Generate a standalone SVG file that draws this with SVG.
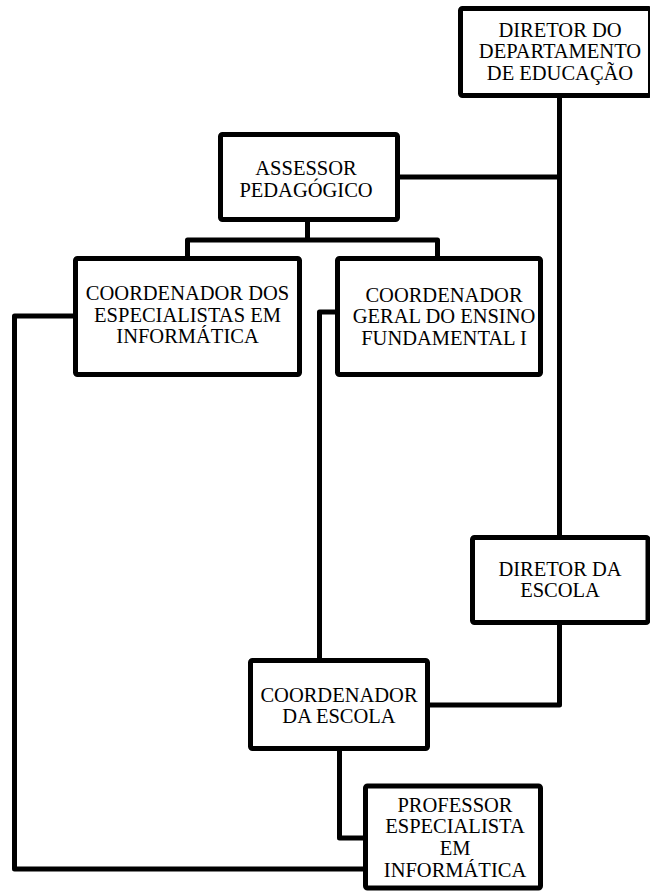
<svg xmlns="http://www.w3.org/2000/svg" width="650" height="891" viewBox="0 0 650 891">
<style>
.box{fill:#fff;stroke:#000;stroke-width:5;stroke-linejoin:round}
.ln{fill:none;stroke:#000;stroke-width:5;stroke-linejoin:round;stroke-linecap:butt}
.t{font-family:"Liberation Serif","Times New Roman",serif;font-size:20.5px;fill:#000;text-anchor:middle}
</style>
<rect width="650" height="891" fill="#fff"/>
<g id="connectors">
<path class="ln" d="M559.5,96 V537"/>
<path class="ln" d="M397.5,177 H559.5"/>
<path class="ln" d="M307.5,220 V240"/>
<path class="ln" d="M187.5,258 V240 H437.5 V258"/>
<path class="ln" d="M75.5,316 H14.5 V869 H365.5"/>
<path class="ln" d="M337.5,312 H319.5 V660"/>
<path class="ln" d="M559.5,623 V705 H427.5"/>
<path class="ln" d="M339.5,749 V838 H365.5"/>
</g>
<g id="diretor-departamento">
<rect class="box" x="460.5" y="8.5" width="190" height="87" rx="2"/>
<text class="t" x="560" y="36.7">DIRETOR DO</text>
<text class="t" x="560" y="58.3">DEPARTAMENTO</text>
<text class="t" x="560" y="80">DE EDUCAÇÃO</text>
</g>
<g id="assessor">
<rect class="box" x="220.5" y="134.5" width="177" height="85" rx="2"/>
<text class="t" x="306" y="175">ASSESSOR</text>
<text class="t" x="306" y="196.5">PEDAGÓGICO</text>
</g>
<g id="coord-especialistas">
<rect class="box" x="75.5" y="258.5" width="224" height="116" rx="2"/>
<text class="t" x="187.5" y="300">COORDENADOR DOS</text>
<text class="t" x="187.5" y="321.7">ESPECIALISTAS EM</text>
<text class="t" x="187.5" y="343.3">INFORMÁTICA</text>
</g>
<g id="coord-geral">
<rect class="box" x="337.5" y="258.5" width="203" height="116" rx="2"/>
<text class="t" x="444" y="301.7">COORDENADOR</text>
<text class="t" x="444" y="323.3">GERAL DO ENSINO</text>
<text class="t" x="444" y="345">FUNDAMENTAL I</text>
</g>
<g id="diretor-escola">
<rect class="box" x="472.5" y="537.5" width="175.5" height="85" rx="2"/>
<text class="t" x="560" y="575.7">DIRETOR DA</text>
<text class="t" x="560" y="597.3">ESCOLA</text>
</g>
<g id="coord-escola">
<rect class="box" x="250.5" y="660.5" width="177" height="88" rx="2"/>
<text class="t" x="339" y="701.7">COORDENADOR</text>
<text class="t" x="339" y="722.7">DA ESCOLA</text>
</g>
<g id="professor">
<rect class="box" x="365.5" y="786" width="175" height="102" rx="2"/>
<text class="t" x="455" y="811.7">PROFESSOR</text>
<text class="t" x="455" y="833.3">ESPECIALISTA</text>
<text class="t" x="455" y="855">EM</text>
<text class="t" x="455" y="876.7">INFORMÁTICA</text>
</g>
</svg>
